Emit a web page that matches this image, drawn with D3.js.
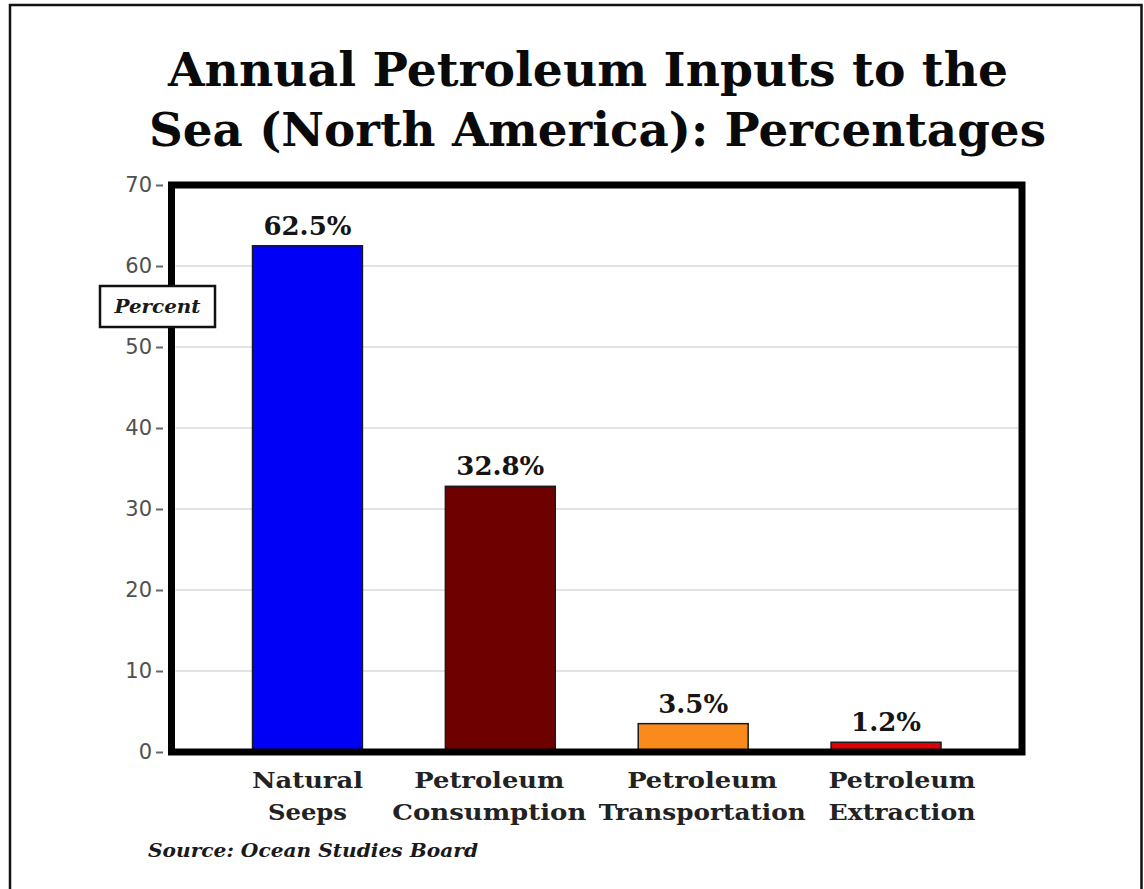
<!DOCTYPE html>
<html>
<head>
<meta charset="utf-8">
<script src="https://cdn.jsdelivr.net/npm/d3@7"></script>
<style>
  html, body { margin: 0; padding: 0; background: #fff; }
  svg { display: block; }
</style>
</head>
<body>
<svg id="chart" width="1144" height="889"></svg>
<script>
// Data
const categories = ["Natural Seeps", "Petroleum Consumption", "Petroleum Transportation", "Petroleum Extraction"];
const categoryLines = [["Natural", "Seeps"], ["Petroleum", "Consumption"], ["Petroleum", "Transportation"], ["Petroleum", "Extraction"]];
const values = [62.5, 32.8, 3.5, 1.2];
const valueLabels = ["62.5%", "32.8%", "3.5%", "1.2%"];
const barColors = ["#0000f6", "#6e0000", "#fb8a1c", "#e00008"];
const yTicks = [0, 10, 20, 30, 40, 50, 60, 70];
const titleLines = ["Annual Petroleum Inputs to the", "Sea (North America): Percentages"];
const axisTitle = "Percent";
const sourceText = "Source: Ocean Studies Board";

const svg = d3.select("#chart");
const serif = "'DejaVu Serif', 'Liberation Serif', serif";

// fit a text element to a given width
function fitWidth(sel, w) {
  sel.attr("textLength", w).attr("lengthAdjust", "spacingAndGlyphs");
}

// outer frame (open at the bottom)
svg.append("path")
  .attr("d", "M10,889 V5 H1141.5 V889")
  .attr("fill", "none")
  .attr("stroke", "#111")
  .attr("stroke-width", 2.5);

// title
const titleSpecs = [{x: 168, y: 86, w: 840}, {x: 149, y: 146, w: 897}];
titleLines.forEach((t, i) => {
  svg.append("text")
    .attr("x", titleSpecs[i].x)
    .attr("y", titleSpecs[i].y)
    .attr("font-family", serif)
    .attr("font-weight", "bold")
    .attr("font-size", 47)
    .attr("fill", "#0a0a0a")
    .text(t)
    .call(fitWidth, titleSpecs[i].w);
});

// scales
const plot = {left: 171.5, right: 1022, top: 185, bottom: 752};
const x = d3.scaleBand()
  .domain(categories)
  .range([plot.left, plot.right])
  .paddingInner(0.43)
  .paddingOuter(0.42);
const y = d3.scaleLinear()
  .domain([0, 70])
  .range([plot.bottom, plot.top]);

// gridlines
svg.append("g")
  .selectAll("line")
  .data(yTicks.filter(d => d > 0 && d < 70))
  .join("line")
  .attr("x1", plot.left + 4)
  .attr("x2", plot.right - 4)
  .attr("y1", d => y(d))
  .attr("y2", d => y(d))
  .attr("stroke", "#dadada")
  .attr("stroke-width", 1.5);

// y axis ticks and labels
const yAxis = svg.append("g")
  .attr("transform", "translate(163,0)")
  .call(d3.axisLeft(y).tickValues(yTicks).tickSize(7).tickPadding(4).tickFormat(d3.format("d")));
yAxis.select(".domain").remove();
yAxis.selectAll(".tick line").attr("stroke", "#666").attr("stroke-width", 2);
yAxis.selectAll(".tick text")
  .attr("font-family", "'DejaVu Sans', 'Liberation Sans', sans-serif")
  .attr("font-size", 21)
  .attr("fill", "#505050");

// bars
svg.append("g")
  .selectAll("rect")
  .data(values)
  .join("rect")
  .attr("x", (d, i) => x(categories[i]))
  .attr("width", x.bandwidth())
  .attr("y", d => y(d))
  .attr("height", d => y(0) - y(d))
  .attr("fill", (d, i) => barColors[i])
  .attr("stroke", "#1a1a1a")
  .attr("stroke-width", 1.5);

// value labels
svg.append("g")
  .selectAll("text")
  .data(values)
  .join("text")
  .attr("x", (d, i) => x(categories[i]) + x.bandwidth() / 2)
  .attr("y", d => y(d) - 11)
  .attr("text-anchor", "middle")
  .attr("font-family", serif)
  .attr("font-weight", "bold")
  .attr("font-size", 26)
  .attr("fill", "#151515")
  .text((d, i) => valueLabels[i]);

// plot frame
svg.append("rect")
  .attr("x", plot.left)
  .attr("y", plot.top)
  .attr("width", plot.right - plot.left)
  .attr("height", plot.bottom - plot.top)
  .attr("fill", "none")
  .attr("stroke", "#000")
  .attr("stroke-width", 7);

// axis title box
const boxG = svg.append("g");
boxG.append("rect")
  .attr("x", 100).attr("y", 286)
  .attr("width", 115).attr("height", 41)
  .attr("fill", "#fff")
  .attr("stroke", "#111")
  .attr("stroke-width", 2.5);
boxG.append("text")
  .attr("x", 157.5).attr("y", 313)
  .attr("text-anchor", "middle")
  .attr("font-family", serif)
  .attr("font-weight", "bold")
  .attr("font-style", "italic")
  .attr("font-size", 18)
  .attr("fill", "#1a1a1a")
  .text(axisTitle)
  .call(fitWidth, 86);

// category labels: spread sideways a little so the long words don't collide
const catWidths = [[111, 79], [150, 194], [150, 207], [147, 147]];
const catShift = [0, -11, 9, 16];
const catG = svg.append("g");
categoryLines.forEach((lines, i) => {
  lines.forEach((ln, j) => {
    catG.append("text")
      .attr("x", x(categories[i]) + x.bandwidth() / 2 + catShift[i])
      .attr("y", 788 + j * 32)
      .attr("text-anchor", "middle")
      .attr("font-family", serif)
      .attr("font-weight", "bold")
      .attr("font-size", 23)
      .attr("fill", "#222")
      .text(ln)
      .call(fitWidth, catWidths[i][j]);
  });
});

// source note
svg.append("text")
  .attr("x", 148).attr("y", 857)
  .attr("font-family", serif)
  .attr("font-weight", "bold")
  .attr("font-style", "italic")
  .attr("font-size", 18)
  .attr("fill", "#1a1a1a")
  .text(sourceText)
  .call(fitWidth, 330);
</script>
</body>
</html>
